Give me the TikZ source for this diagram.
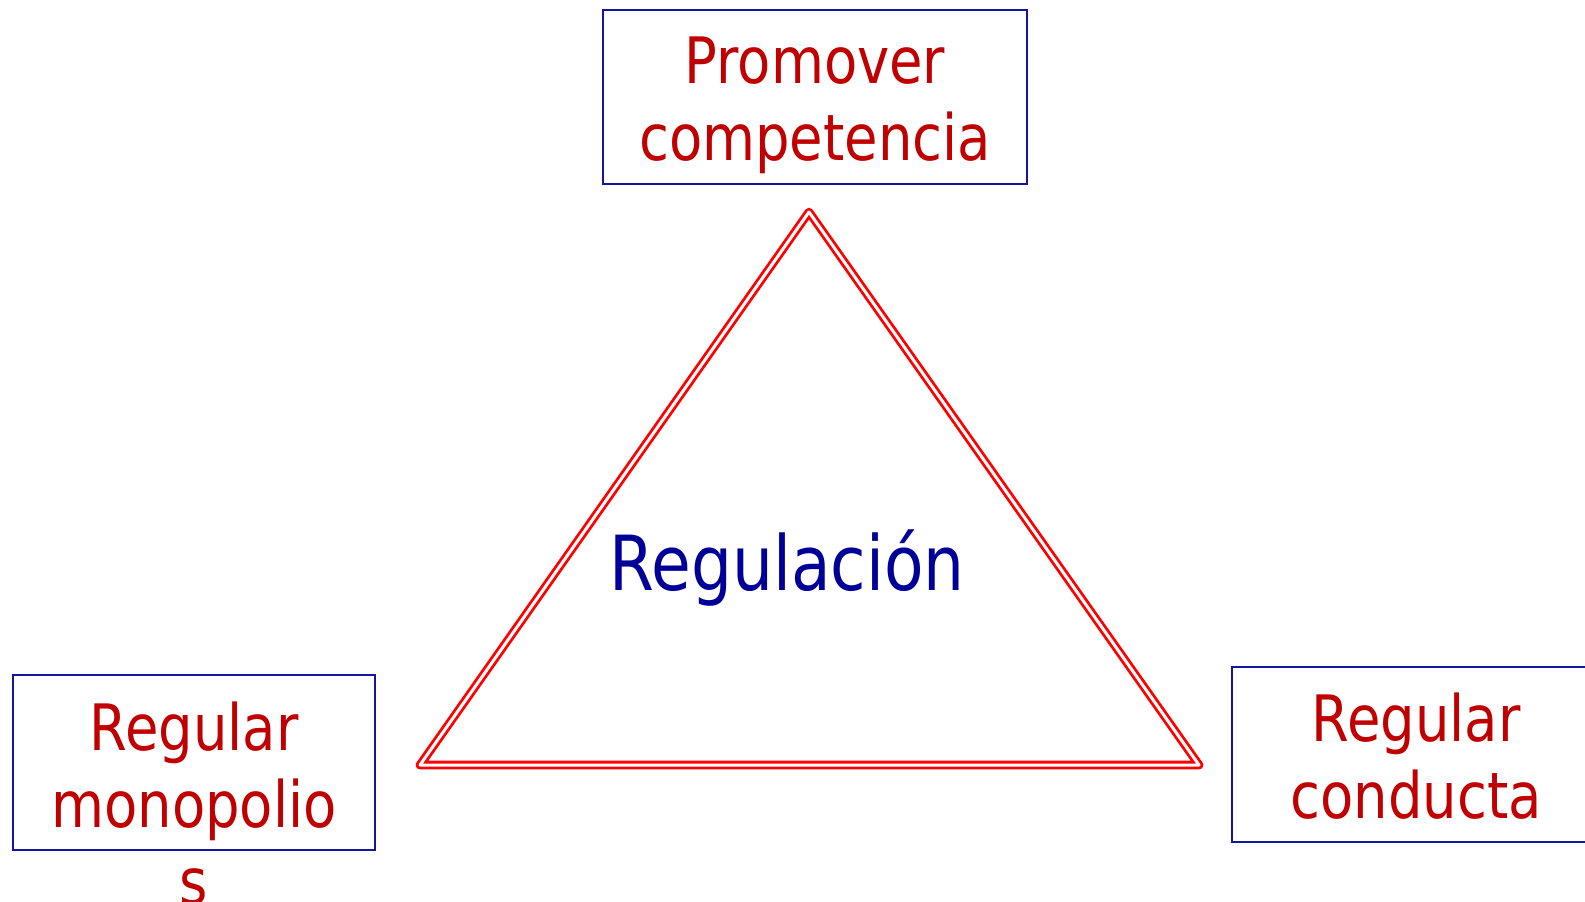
\documentclass[tikz,border=0pt]{standalone}
\usepackage{fontspec}
\setmainfont{DejaVu Sans}[FakeStretch=0.85]
\definecolor{txtred}{RGB}{192,0,0}
\definecolor{txtblue}{RGB}{0,0,153}
\definecolor{boxblue}{RGB}{20,20,160}
\definecolor{trired}{RGB}{255,0,0}
\tikzset{
  boxframe/.style={draw=boxblue, line width=2.2pt},
  boxtext/.style={text=txtred, align=center, inner sep=0pt, anchor=base,
    font=\fontsize{64}{77}\selectfont},
  tri/.style={draw=trired, line width=2.8pt, double=white, double distance=3pt, line join=round},
}
\begin{document}
\begin{tikzpicture}[x=1pt,y=-1pt]
\useasboundingbox (0,0) rectangle (1585,902);
\clip (0,0) rectangle (1585,902);
% triangle
\coordinate (apex) at (809,212);
\coordinate (bl) at (420,765);
\coordinate (br) at (1199,765);
\draw[tri] (apex) -- (bl) -- (br) -- cycle;
% boxes
\draw[boxframe] (603,10) rectangle (1027,184);
\draw[boxframe] (13,675) rectangle (375,850);
\draw[boxframe] (1232,667) rectangle (1600,842);
% texts (base anchor = baseline of the last line)
\node[boxtext] (promover) at (815,160) {Promover\\competencia};
\node[boxtext] (monop) at (194,904) {Regular\\monopolio\\s};
\node[boxtext] (conducta) at (1416,818) {Regular\\conducta};
\node[text=txtblue, inner sep=0pt, anchor=base, font=\fontsize{76}{90}\selectfont] (reg) at (787,590) {Regulación};
\end{tikzpicture}
\end{document}
